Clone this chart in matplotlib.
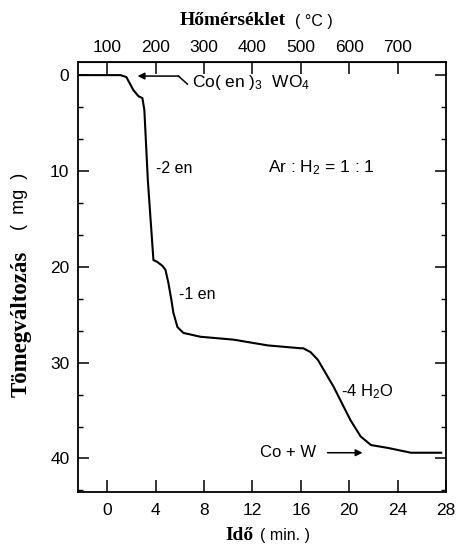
import numpy as np
import matplotlib
matplotlib.use("Agg")
import matplotlib.pyplot as plt
from matplotlib.ticker import MultipleLocator

plt.rcParams['font.family'] = ['Liberation Sans', 'DejaVu Sans']
plt.rcParams['mathtext.fontset'] = 'custom'
plt.rcParams['mathtext.rm'] = 'Liberation Sans'
plt.rcParams['mathtext.it'] = 'Liberation Sans'

# TGA curve
time_min = [-2.43, 0.0, 1.08, 1.57, 2.15, 2.57, 2.9, 3.06, 3.35, 3.81, 4.14, 4.55,
            4.8, 5.05, 5.3, 5.46, 5.8, 6.29, 7.7, 10.43, 13.25, 15.98, 16.2, 16.8,
            17.4, 18.7, 20.1, 20.94, 21.8, 23.2, 25.1, 27.6]
mass_loss = [0.0, 0.0, 0.0, 0.2, 1.56, 2.2, 2.4, 3.65, 11.0, 19.3, 19.5, 19.9,
             20.3, 21.7, 23.5, 24.8, 26.3, 26.9, 27.3, 27.6, 28.2, 28.5, 28.5, 28.9,
             29.7, 32.5, 36.0, 37.7, 38.6, 38.9, 39.4, 39.4]

time_ticks = [0, 4, 8, 12, 16, 20, 24, 28]
temp_ticks = [100, 200, 300, 400, 500, 600, 700]
mass_ticks = [0, 10, 20, 30, 40]

fig = plt.figure(figsize=(4.59, 5.45), dpi=100)
ax = fig.add_axes([0.1693, 0.0972, 0.8024, 0.7896])

ax.plot(time_min, mass_loss, color='black', lw=1.5)

ax.set_xlim(-2.45, 28.0)
ax.set_ylim(43.5, -1.4)
ax.set_xticks(time_ticks)
ax.set_yticks(mass_ticks)
ax.yaxis.set_minor_locator(MultipleLocator(10 / 3))
ax.tick_params(axis='x', direction='in', length=8.5, width=1.1, pad=8,
               labelsize=12.5, top=False)
ax.tick_params(axis='y', which='major', direction='in', length=8, width=1.1,
               pad=6, labelsize=12.5, right=True)
ax.tick_params(axis='y', which='minor', direction='in', length=3.8, width=1.0,
               right=True)
for s in ax.spines.values():
    s.set_linewidth(1.3)

# temperature scale on top
sec = ax.secondary_xaxis('top', functions=(lambda t: 100 + 25 * t,
                                           lambda T: (T - 100) / 25))
sec.set_xticks(temp_ticks)
sec.tick_params(direction='in', length=8.5, width=1.1, pad=5, labelsize=12.5)

# annotations
ax.annotate('', xy=(2.5, 0.1), xytext=(5.9, 0.1),
            arrowprops=dict(arrowstyle='-|>', color='black', lw=1.1,
                            mutation_scale=10, shrinkA=0, shrinkB=0))
ax.plot([5.88, 6.62], [0.1, 0.94], color='black', lw=1.1)
ax.text(7.0, 0.8, 'Co( en )$_3$  WO$_4$', fontsize=12.5, va='center', ha='left')
ax.text(4.0, 9.7, '-2 en', fontsize=11.5, va='center', ha='left')
ax.text(13.3, 9.7, 'Ar : H$_2$ = 1 : 1', fontsize=12.5, va='center', ha='left')
ax.text(5.9, 22.9, '-1 en', fontsize=11.5, va='center', ha='left')
ax.text(19.3, 33.0, '-4 H$_2$O', fontsize=12, va='center', ha='left')
ax.text(12.6, 39.4, 'Co + W', fontsize=12, va='center', ha='left')
ax.annotate('', xy=(21.1, 39.4), xytext=(18.2, 39.4),
            arrowprops=dict(arrowstyle='-|>', color='black', lw=1.1,
                            mutation_scale=10, shrinkA=0, shrinkB=0))

# axis titles: bold serif word + sans unit
serif = dict(family=['Liberation Serif', 'DejaVu Serif'], weight='bold')
fig.text(0.508, 0.963, 'Hőmérséklet', fontsize=14, ha='center', va='center', **serif)
fig.text(0.684, 0.960, '( °C )', fontsize=11.5, ha='center', va='center')
fig.text(0.521, 0.018, 'Idő', fontsize=14, ha='center', va='center', **serif)
fig.text(0.621, 0.018, '( min. )', fontsize=11.5, ha='center', va='center')
fig.text(0.046, 0.2716, 'Tömegváltozás', fontsize=16.5, rotation=90,
         ha='center', va='bottom', **serif)
fig.text(0.043, 0.6826, '(  mg  )', fontsize=13, rotation=90,
         ha='center', va='top')

fig.savefig('out.png', dpi=100)
